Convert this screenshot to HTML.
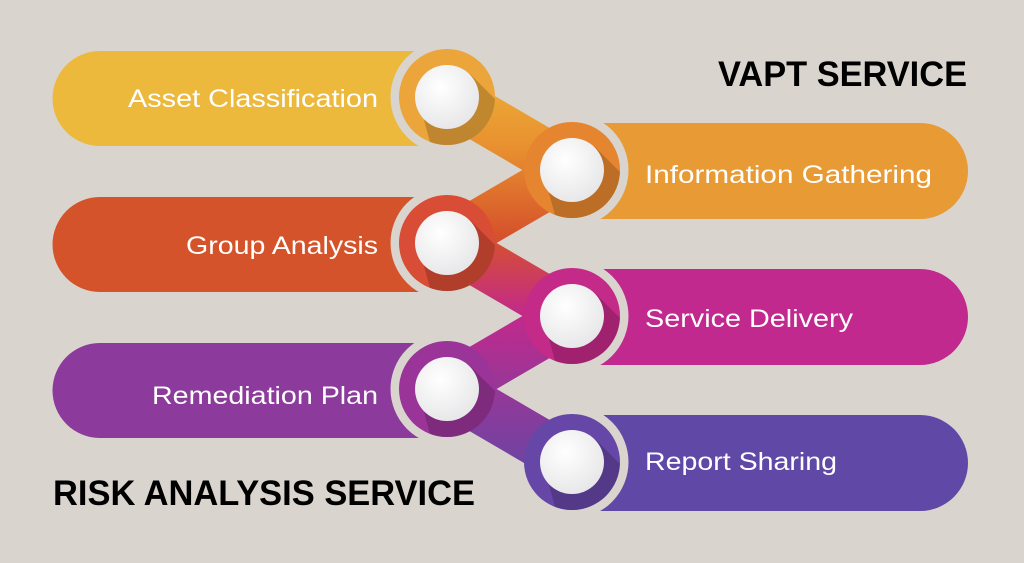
<!DOCTYPE html>
<html><head><meta charset="utf-8"><style>
html,body{margin:0;padding:0;background:#d9d5ce;}
svg{display:block}
text{font-family:"Liberation Sans",sans-serif;}
</style></head><body>
<svg width="1024" height="563" viewBox="0 0 1024 563" xmlns="http://www.w3.org/2000/svg">
<defs>
<radialGradient id="w" cx="40%" cy="35%" r="70%"><stop offset="0" stop-color="#ffffff"/><stop offset="1" stop-color="#e6e6e8"/></radialGradient>
<linearGradient id="ch" gradientUnits="userSpaceOnUse" x1="0" y1="60" x2="0" y2="500">
<stop offset="0" stop-color="#edb43a"/><stop offset="0.2" stop-color="#e8902f"/><stop offset="0.4" stop-color="#d6522b"/><stop offset="0.58" stop-color="#c2298c"/><stop offset="0.78" stop-color="#8e3a9a"/><stop offset="1" stop-color="#5e48a7"/>
</linearGradient>
</defs>
<rect width="1024" height="563" fill="#d9d5ce"/>
<path d="M100 51 H440 V146 H100 A47.5 47.5 0 0 1 100 51Z" fill="#ecb93d"/>
<path d="M100 197 H440 V292 H100 A47.5 47.5 0 0 1 100 197Z" fill="#d5532a"/>
<path d="M100 343 H440 V438 H100 A47.5 47.5 0 0 1 100 343Z" fill="#8c3a9b"/>
<path d="M580 123 H920 A48 48 0 0 1 920 219 H580Z" fill="#e89a35"/>
<path d="M580 269 H920 A48 48 0 0 1 920 365 H580Z" fill="#c1298e"/>
<path d="M580 415 H920 A48 48 0 0 1 920 511 H580Z" fill="#5f48a6"/>
<g fill="#d9d5ce" stroke="#d9d5ce">
<polyline points="447,97 572,170 447,243 572,316 447,389 572,462" fill="none" stroke-width="66" stroke-linejoin="round"/>
<circle cx="447" cy="97" r="56"/><circle cx="572" cy="170" r="56"/><circle cx="447" cy="243" r="56"/>
<circle cx="572" cy="316" r="56"/><circle cx="447" cy="389" r="56"/><circle cx="572" cy="462" r="56"/>
</g>
<polyline points="447,97 572,170 447,243 572,316 447,389 572,462" fill="none" stroke="url(#ch)" stroke-width="50" stroke-linejoin="round"/>
<g>
<circle cx="447" cy="97" r="48" fill="#eba53a"/>
<circle cx="572" cy="170" r="48" fill="#e6852f"/>
<circle cx="447" cy="243" r="48" fill="#d94c35"/>
<circle cx="572" cy="316" r="48" fill="#c42a88"/>
<circle cx="447" cy="389" r="48" fill="#9a3499"/>
<circle cx="572" cy="462" r="48" fill="#6646a6"/>
</g>
<g fill="#000" opacity="0.18">
<path d="M470 74 L495 99 A48 48 0 0 1 430 142 L424 120Z"/>
<path d="M595 147 L620 172 A48 48 0 0 1 555 215 L549 193Z"/>
<path d="M470 220 L495 245 A48 48 0 0 1 430 288 L424 266Z"/>
<path d="M595 293 L620 318 A48 48 0 0 1 555 361 L549 339Z"/>
<path d="M470 366 L495 391 A48 48 0 0 1 430 434 L424 412Z"/>
<path d="M595 439 L620 464 A48 48 0 0 1 555 507 L549 485Z"/>
</g>
<g fill="url(#w)">
<circle cx="447" cy="97" r="32"/><circle cx="572" cy="170" r="32"/><circle cx="447" cy="243" r="32"/>
<circle cx="572" cy="316" r="32"/><circle cx="447" cy="389" r="32"/><circle cx="572" cy="462" r="32"/>
</g>
<g fill="#fff" font-size="25">
<text x="378" y="107" text-anchor="end" textLength="250" lengthAdjust="spacingAndGlyphs">Asset Classification</text>
<text x="378" y="254" text-anchor="end" textLength="192" lengthAdjust="spacingAndGlyphs">Group Analysis</text>
<text x="378" y="404" text-anchor="end" textLength="226" lengthAdjust="spacingAndGlyphs">Remediation Plan</text>
<text x="645" y="183" textLength="287" lengthAdjust="spacingAndGlyphs">Information Gathering</text>
<text x="645" y="327" textLength="208" lengthAdjust="spacingAndGlyphs">Service Delivery</text>
<text x="645" y="470" textLength="192" lengthAdjust="spacingAndGlyphs">Report Sharing</text>
</g>
<g fill="#000" font-weight="bold" font-size="35">
<text x="718" y="86" textLength="249" lengthAdjust="spacingAndGlyphs">VAPT SERVICE</text>
<text x="53" y="505" textLength="422" lengthAdjust="spacingAndGlyphs">RISK ANALYSIS SERVICE</text>
</g>
</svg>
</body></html>
